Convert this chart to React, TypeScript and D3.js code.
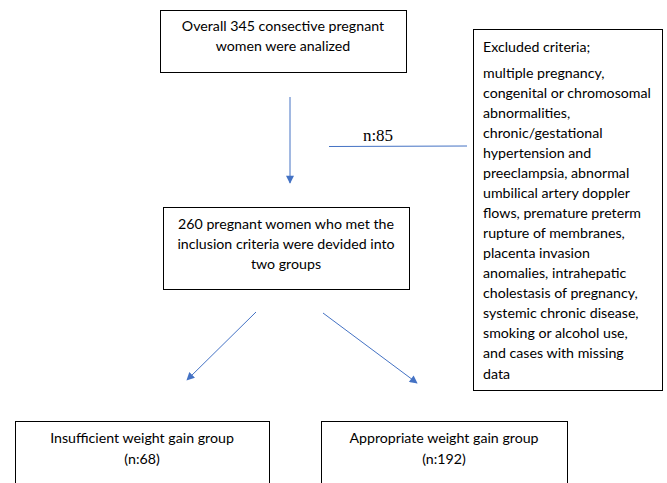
import React, { useEffect, useRef } from 'react';
import * as d3 from 'd3';

// box texts of the flow diagram
const topLines = ['Overall 345 consective pregnant', 'women were analized'];
const middleLines = ['260 pregnant women who met the', 'inclusion criteria were devided into', 'two groups'];
const excludedTitle = 'Excluded criteria;';
const excludedLines = [
  'multiple pregnancy,',
  'congenital or chromosomal',
  'abnormalities,',
  'chronic/gestational',
  'hypertension and',
  'preeclampsia, abnormal',
  'umbilical artery doppler',
  'flows, premature preterm',
  'rupture of membranes,',
  'placenta invasion',
  'anomalies, intrahepatic',
  'cholestasis of pregnancy,',
  'systemic chronic disease,',
  'smoking or alcohol use,',
  'and cases with missing',
  'data',
];
const groupNames = ['Insufficient weight gain group', 'Appropriate weight gain group'];
const groupCounts = [68, 192];
const excludedCount = 85;

const W = 667;
const H = 483;
const FONT = 'Lato, "Open Sans", sans-serif';
const BLUE = '#4472C4';

const App = () => {
  const node = useRef<SVGSVGElement>(null);

  useEffect(() => {
    document.body.style.margin = '0';
    const svg = d3.select(node.current);
    svg.selectAll('*').remove();
    svg.attr('width', W).attr('height', H);

    svg.append('rect').attr('width', W).attr('height', H).attr('fill', '#fff');

    const defs = svg.append('defs');
    defs.append('marker')
      .attr('id', 'arrow')
      .attr('viewBox', '0 0 10 10')
      .attr('refX', 9)
      .attr('refY', 5)
      .attr('markerWidth', 9)
      .attr('markerHeight', 8)
      .attr('markerUnits', 'userSpaceOnUse')
      .attr('orient', 'auto')
      .append('path')
      .attr('d', 'M0,0L10,5L0,10Z')
      .attr('fill', BLUE);

    const box = (x0: number, y0: number, x1: number, y1: number) => {
      svg.append('rect')
        .attr('x', x0 + 0.5).attr('y', y0 + 0.5)
        .attr('width', x1 - x0).attr('height', y1 - y0)
        .attr('fill', 'none').attr('stroke', '#000').attr('stroke-width', 1);
    };

    const lines = (texts: string[], x: number, y0: number, step: number, anchor: string) => {
      svg.append('g').selectAll('text')
        .data(texts)
        .enter()
        .append('text')
        .attr('x', x)
        .attr('y', (d, i) => y0 + i * step)
        .attr('text-anchor', anchor)
        .attr('dominant-baseline', 'central')
        .attr('font-family', FONT)
        .attr('font-size', 14.2)
        .attr('fill', '#000')
        .text(d => d);
    };

    const line = d3.line();
    const arrow = (pts: [number, number][], head: boolean) => {
      svg.append('path')
        .attr('d', line(pts))
        .attr('fill', 'none')
        .attr('stroke', BLUE)
        .attr('stroke-width', 1)
        .attr('marker-end', head ? 'url(#arrow)' : null);
    };

    // top box
    box(160, 10, 406, 72);
    lines(topLines, 283, 25, 20, 'middle');

    // excluded box
    box(473, 29, 662, 390);
    lines([excludedTitle], 483, 46, 20, 'start');
    lines(excludedLines, 483, 72, 20.07, 'start');

    // middle box
    box(163, 207, 409, 289);
    lines(middleLines, 286, 223, 20, 'middle');

    // group boxes, open at the bottom edge
    const groupX = [[15, 269], [321, 567]];
    groupX.forEach(([x0, x1], i) => {
      box(x0, 421, x1, H + 5);
      lines([groupNames[i], `(n:${groupCounts[i]})`], (x0 + x1) / 2, 437, 21, 'middle');
    });

    // connectors
    arrow([[290, 97], [290, 183]], true);
    arrow([[329, 146.5], [467, 146]], false);
    svg.append('text')
      .attr('x', 378).attr('y', 141)
      .attr('text-anchor', 'middle')
      .attr('font-family', '"Liberation Serif", "Times New Roman", serif')
      .attr('font-size', 17)
      .text(`n:${excludedCount}`);
    arrow([[256, 312], [187, 380]], true);
    arrow([[323, 313], [417, 383]], true);
  }, []);

  return <svg ref={node} style={{ display: 'block' }}></svg>;
};

export default App;
